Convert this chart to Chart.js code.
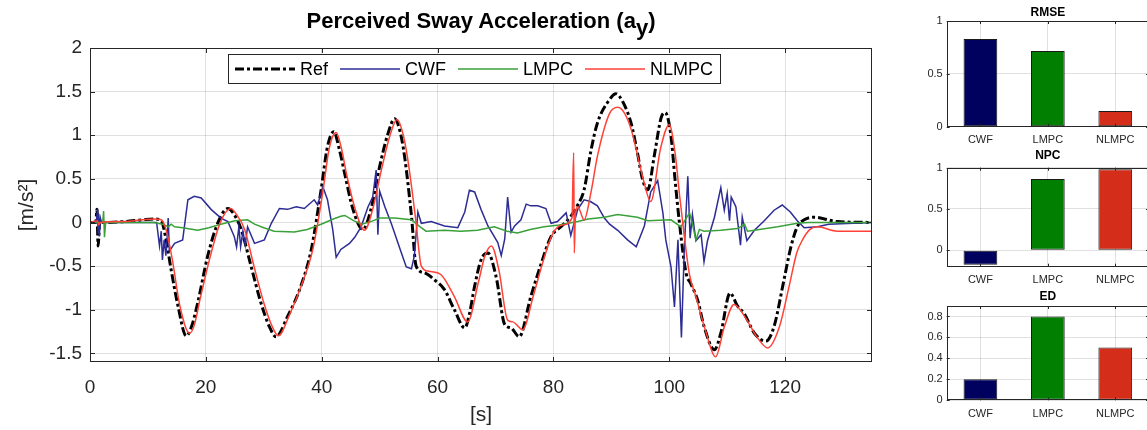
<!DOCTYPE html>
<html>
<head>
<meta charset="utf-8">
<script src="https://cdn.jsdelivr.net/npm/chart.js@4.4.1/dist/chart.umd.min.js"></script>
<style>
  html, body { margin: 0; padding: 0; background: #fff; overflow: hidden; }
  body { width: 1147px; height: 430px; position: relative; }
  .box { position: absolute; }
  canvas { display: block; }
  #title {
    position: absolute; left: 90px; width: 782px; top: 10px; z-index: 2;
    text-align: center; color: #000;
    font: bold 22px/22px "Liberation Sans", Arial, sans-serif;
  }
  #title .sub { position: relative; top: 7px; }
</style>
</head>
<body>
<div id="title">Perceived Sway Acceleration (a<span class="sub">y</span>)</div>
<div class="box" style="left:0;top:0;width:890px;height:430px"><canvas id="sway" width="890" height="430"></canvas></div>
<div class="box" style="left:900px;top:0;width:252px;height:145px"><canvas id="rmse" width="252" height="145"></canvas></div>
<div class="box" style="left:900px;top:145px;width:252px;height:140px"><canvas id="npc" width="252" height="140"></canvas></div>
<div class="box" style="left:900px;top:285px;width:252px;height:145px"><canvas id="ed" width="252" height="145"></canvas></div>

<script>
// ---- data: [time s, acceleration m/s^2] ----
const refSeries = [[0,0],[1.0,0],[1.2,0.15],[1.4,-0.27],[1.7,0.02],[2.2,0],[6,0.01],[9,0.03],[11,0.04],[12.3,0.02],[13,-0.15],[14,-0.54],[15.2,-0.96],[16.6,-1.30],[17.5,-1.2],[18.6,-0.92],[20.3,-0.39],[22.1,0.0],[23.8,0.16],[24.8,0.1],[26.1,-0.08],[27.8,-0.5],[29.5,-0.92],[31,-1.2],[32.1,-1.31],[34.1,-1.08],[36.4,-0.73],[38.2,-0.31],[39.9,0.375],[41.0,0.87],[42.1,1.04],[43,0.85],[44,0.55],[45.4,0.15],[47.1,-0.08],[48.5,0.15],[50,0.64],[51.4,1.01],[52.6,1.19],[53.5,1.05],[54.3,0.76],[55.5,0.07],[56.3,-0.5],[57.8,-0.58],[59.5,-0.66],[61.2,-0.77],[62.9,-1.0],[64.7,-1.21],[65.5,-1.05],[66.4,-0.73],[67.5,-0.43],[68.7,-0.35],[70.1,-0.62],[71.6,-1.17],[72.7,-1.21],[74.1,-1.31],[76.1,-0.85],[77.9,-0.47],[79.6,-0.16],[81.3,-0.05],[83,0.07],[84.2,0.2],[85.3,0.375],[86.5,0.83],[87.6,1.14],[89.7,1.41],[90.8,1.476],[92,1.38],[93.4,1.14],[94.5,0.8],[95.4,0.49],[96.3,0.375],[97.4,0.76],[98.6,1.2],[99.3,1.26],[100.3,0.99],[101.0,0.49],[101.7,0.03],[102.9,-0.58],[103.7,-0.70],[104.9,-0.89],[106,-1.19],[107.8,-1.46],[108.9,-1.27],[110.5,-0.81],[111.8,-0.96],[112.9,-1.04],[114.7,-1.27],[116.7,-1.36],[118.1,-1.19],[119.8,-0.66],[121,-0.28],[122.1,-0.05],[123.3,0.03],[125,0.06],[129,0.01],[135,0]];

const cwfSeries = [[0,0],[1.1,0],[1.3,0.16],[1.4,-0.12],[1.5,0.1],[1.6,-0.16],[1.8,0.05],[2.0,0],[11.5,0],[12.0,-0.27],[12.3,-0.1],[12.5,-0.43],[12.8,-0.2],[13.1,-0.38],[13.3,-0.2],[13.5,0.05],[13.7,-0.33],[14.6,-0.24],[16.0,-0.2],[16.9,0.26],[18.0,0.3],[19.2,0.28],[20.9,0.15],[22.6,0.05],[23.8,0.01],[24.9,-0.16],[25.3,-0.28],[25.7,-0.05],[26.0,-0.28],[26.4,-0.1],[26.8,-0.26],[27.2,-0.05],[28.4,-0.24],[30.1,-0.2],[31.3,-0.01],[32.7,0.16],[34.1,0.15],[35.6,0.18],[37.0,0.16],[38.7,0.26],[39.3,0.2],[40.2,0.41],[41.0,0.26],[41.9,-0.08],[42.5,-0.4],[43.3,-0.31],[44.8,-0.24],[45.7,-0.17],[46.8,-0.05],[48.0,0.18],[48.8,0.29],[49.4,0.6],[49.7,-0.14],[50.0,0.36],[50.9,0.18],[52.0,-0.01],[53.7,-0.34],[54.6,-0.51],[55.5,-0.53],[56.0,-0.38],[56.6,0.12],[57.2,-0.01],[58.9,0.01],[61.2,-0.04],[63.5,-0.06],[64.7,0.12],[65.5,0.37],[66.4,0.35],[67.5,0.15],[68.7,-0.04],[70.4,-0.23],[71.0,-0.38],[71.6,-0.19],[72.1,0.29],[72.7,-0.11],[73.3,-0.04],[74.4,0.03],[75.3,0.21],[76.1,0.19],[77.3,0.19],[78.7,0.16],[79.6,-0.01],[80.7,0.01],[82.2,0.11],[83.0,-0.15],[84.2,0.15],[85.3,0.26],[86.4,0.24],[87.6,0.19],[88.8,0.05],[89.7,-0.02],[91.1,-0.09],[92.8,-0.2],[94.3,-0.28],[95.7,-0.04],[96.8,0.35],[98.0,0.48],[98.9,0.11],[99.4,-0.2],[100.3,-0.51],[100.9,-0.97],[101.5,-0.2],[102.1,-1.32],[102.6,-0.3],[103.2,0.53],[103.6,-0.18],[104.0,0.09],[104.6,-0.21],[105.5,-0.14],[106.0,-0.45],[106.6,-0.21],[107.8,0.06],[108.9,0.40],[109.5,0.14],[110.0,0.33],[110.4,0.02],[110.7,0.29],[111.5,0.18],[112.3,-0.26],[112.6,0.06],[113.4,-0.21],[114.7,-0.09],[116.4,0.02],[118.1,0.14],[119.5,0.2],[120.9,0.12],[122.1,0.02],[123.3,-0.06],[125.6,-0.05],[127.5,-0.02],[135,0]];

const lmpcSeries = [[0,0],[2.2,0],[2.35,0.13],[2.5,-0.17],[2.7,0],[11,0],[12.5,-0.02],[13.5,-0.05],[14,-0.02],[14.6,-0.05],[16,-0.06],[18.6,-0.09],[20.5,-0.06],[22.6,-0.02],[25,0.02],[27.2,0.03],[28.4,-0.02],[30,-0.06],[31.8,-0.1],[35.3,-0.11],[37.5,-0.08],[39.9,-0.02],[42,0.04],[43.3,0.07],[44,0.08],[45.5,0.02],[46.9,-0.02],[48.5,0.01],[50,0.05],[52.6,0.05],[55.5,0.03],[57,-0.05],[58,-0.1],[61.2,-0.09],[64,-0.1],[66.9,-0.09],[69.8,-0.05],[72,-0.1],[73.8,-0.12],[76,-0.08],[78.4,-0.05],[81,-0.03],[84.2,0.01],[86,0.04],[88.8,0.06],[91.1,0.09],[94.5,0.06],[96.3,0.02],[100.3,0.03],[102,-0.05],[103.5,0.11],[104,-0.02],[104.6,-0.2],[105.2,-0.08],[106,-0.1],[108.9,-0.09],[111.8,-0.07],[113,-0.02],[113.5,-0.1],[114.7,-0.09],[118.7,-0.05],[122.1,-0.01],[124,0],[135,0]];

const nlmpcSeries = [[0,0],[1.3,0.02],[1.5,-0.03],[1.8,0],[6,0.01],[9,0.03],[11,0.04],[12.3,0.03],[13.2,-0.1],[14.2,-0.42],[15.5,-0.95],[17.2,-1.27],[18,-1.18],[19,-0.88],[20.8,-0.38],[22.5,0.0],[24.3,0.16],[25.2,0.1],[26.7,-0.08],[28.3,-0.5],[30,-0.92],[31.5,-1.2],[32.5,-1.30],[34.5,-1.05],[36.5,-0.72],[38.5,-0.3],[40.2,0.35],[41.3,0.85],[42.5,1.03],[43.4,0.85],[44.3,0.55],[45.8,0.15],[47.4,-0.09],[48.8,0.15],[50.3,0.6],[51.8,1.0],[53.0,1.18],[53.9,1.05],[54.8,0.75],[56.2,0.05],[57.2,-0.5],[58.5,-0.56],[60.6,-0.6],[62.9,-0.85],[65.2,-1.14],[67,-0.7],[68.2,-0.38],[69.3,-0.27],[70.6,-0.55],[72.1,-1.12],[73,-1.14],[74.7,-1.23],[76.5,-0.85],[78.2,-0.45],[79.8,-0.14],[81.5,-0.03],[83.2,0.05],[83.5,0.80],[83.6,-0.35],[83.8,0.1],[84.2,0.18],[85.3,0.03],[86.5,0.35],[87.6,0.76],[89.7,1.25],[91.1,1.32],[92.3,1.25],[93.5,1.05],[95.5,0.5],[96.8,0.24],[98.5,0.85],[100,1.12],[101,0.8],[101.8,0.3],[102.6,-0.16],[103.5,-0.6],[104.6,-0.85],[106.3,-1.25],[108.0,-1.54],[109.5,-1.2],[111.2,-0.94],[113.4,-1.12],[115,-1.3],[117,-1.44],[119,-1.2],[120.7,-0.73],[122,-0.35],[123,-0.2],[124.3,-0.08],[125.6,-0.05],[129,-0.1],[135,-0.1]];

const xTicks = [0, 20, 40, 60, 80, 100, 120];
const yTicks = [-1.5, -1, -0.5, 0, 0.5, 1, 1.5, 2];

// ---- bar panels ----
const methods = ['CWF', 'LMPC', 'NLMPC'];
const methodColors = ['#00005f', '#007f00', '#d42e1a'];
const rmse = [0.83, 0.716, 0.149];
const npc = [-0.175, 0.864, 0.98];
const ed = [0.2, 0.8, 0.505];
const unitTicks = [0, 0.5, 1];
const edTicks = [0, 0.2, 0.4, 0.6, 0.8];

const FONT = '"Liberation Sans", Arial, sans-serif';
const TEXT = '#262626';
const GRID = 'rgba(38,38,38,0.14)';

const toXY = pts => pts.map(([x, y]) => ({ x, y }));
const setTicks = vals => scale => { scale.ticks = vals.map(v => ({ value: v })); };

// box outline with inward tick marks, MATLAB style
const frame = {
  id: 'frame',
  afterDraw(chart, args, opts) {
    const { ctx, chartArea: a, scales } = chart;
    const len = opts.tick || 4;
    ctx.save();
    ctx.strokeStyle = TEXT;
    ctx.lineWidth = 1;
    ctx.beginPath();
    scales.x.ticks.forEach((t, i) => {
      const px = Math.round(scales.x.getPixelForTick(i)) + 0.5;
      ctx.moveTo(px, a.bottom); ctx.lineTo(px, a.bottom - len);
      ctx.moveTo(px, a.top); ctx.lineTo(px, a.top + len);
    });
    scales.y.ticks.forEach((t, i) => {
      const py = Math.round(scales.y.getPixelForTick(i)) + 0.5;
      ctx.moveTo(a.left, py); ctx.lineTo(a.left + len, py);
      ctx.moveTo(a.right, py); ctx.lineTo(a.right - len, py);
    });
    ctx.stroke();
    ctx.strokeRect(Math.round(a.left) + 0.5, Math.round(a.top) + 0.5,
      Math.round(a.width) - 1, Math.round(a.height) - 1);
    ctx.restore();
  }
};

// legend drawn inside the plot area
const insideLegend = {
  id: 'insideLegend',
  afterDatasetsDraw(chart, args, o) {
    const { ctx, chartArea } = chart;
    const x0 = chartArea.left + o.x, y0 = chartArea.top + o.y;
    ctx.save();
    ctx.font = o.font;
    let w = o.pad * 2 - o.spacing;
    chart.data.datasets.forEach(ds => { w += o.sample + o.gap + ctx.measureText(ds.label).width + o.spacing; });
    ctx.fillStyle = '#fff';
    ctx.fillRect(x0, y0, w, o.height);
    ctx.strokeStyle = TEXT;
    ctx.lineWidth = 1;
    ctx.strokeRect(x0 + 0.5, y0 + 0.5, w, o.height);
    const cy = y0 + o.height / 2 + 0.5;
    let x = x0 + o.pad;
    ctx.textBaseline = 'middle';
    chart.data.datasets.forEach(ds => {
      ctx.beginPath();
      ctx.setLineDash(ds.borderDash || []);
      ctx.strokeStyle = ds.borderColor;
      ctx.lineWidth = ds.borderWidth;
      ctx.moveTo(x, cy); ctx.lineTo(x + o.sample, cy);
      ctx.stroke();
      ctx.setLineDash([]);
      x += o.sample + o.gap;
      ctx.fillStyle = '#000';
      ctx.fillText(ds.label, x, cy + 1);
      x += ctx.measureText(ds.label).width + o.spacing;
    });
    ctx.restore();
  }
};

new Chart(document.getElementById('sway'), {
  type: 'line',
  data: {
    datasets: [
      { label: 'Ref', data: toXY(refSeries), borderColor: '#000', borderWidth: 3,
        borderDash: [9, 3, 3, 3], cubicInterpolationMode: 'monotone', order: 4 },
      { label: 'CWF', data: toXY(cwfSeries), borderColor: '#2c2c94', borderWidth: 1.5, tension: 0, order: 3 },
      { label: 'LMPC', data: toXY(lmpcSeries), borderColor: '#3aa13a', borderWidth: 1.5, tension: 0, order: 2 },
      { label: 'NLMPC', data: toXY(nlmpcSeries), borderColor: '#ff4136', borderWidth: 1.5,
        cubicInterpolationMode: 'monotone', order: 1 }
    ]
  },
  plugins: [frame, insideLegend],
  options: {
    responsive: false,
    animation: false,
    devicePixelRatio: 1,
    layout: { padding: { top: 48, right: 18, bottom: 0, left: 0 } },
    elements: { point: { radius: 0 } },
    plugins: {
      legend: { display: false },
      tooltip: { enabled: false },
      frame: { tick: 5 },
      insideLegend: { x: 138, y: 6, height: 29, pad: 7, sample: 60, gap: 5, spacing: 12, font: '18px ' + FONT }
    },
    scales: {
      x: {
        type: 'linear', min: 0, max: 135,
        afterBuildTicks: setTicks(xTicks),
        afterFit: s => { s.height = 68; },
        grid: { color: GRID, drawTicks: false },
        border: { display: false },
        ticks: { padding: 14, color: TEXT, font: { family: FONT, size: 19 }, maxRotation: 0, autoSkip: false, callback: v => String(v) },
        title: { display: true, text: '[s]', color: TEXT, font: { family: FONT, size: 21 }, padding: { top: 0, bottom: 2 } }
      },
      y: {
        min: -1.6, max: 2,
        afterBuildTicks: setTicks(yTicks),
        afterFit: s => { s.width = 90; },
        grid: { color: GRID, drawTicks: false },
        border: { display: false },
        ticks: { padding: 8, color: TEXT, font: { family: FONT, size: 19 }, autoSkip: false, callback: v => String(v) },
        title: { display: true, text: '[m/s²]', color: TEXT, font: { family: FONT, size: 21 }, padding: { top: 15, bottom: 0 } }
      }
    }
  }
});

function barPanel(id, title, values, yMin, yMax, ticks, fit) {
  return new Chart(document.getElementById(id), {
    type: 'bar',
    data: {
      labels: methods,
      datasets: [{
        data: values, backgroundColor: methodColors, borderColor: '#1a1a1a',
        borderWidth: 1, borderSkipped: false, barPercentage: 0.5, categoryPercentage: 1
      }]
    },
    plugins: [frame],
    options: {
      responsive: false,
      animation: false,
      devicePixelRatio: 1,
      layout: { padding: { top: 0, right: 3, bottom: 0, left: 0 } },
      plugins: {
        legend: { display: false },
        tooltip: { enabled: false },
        frame: { tick: 3 },
        title: {
          display: true, text: title, fullSize: false, color: '#000',
          font: { family: FONT, size: 12, weight: 'bold' },
          padding: { top: fit.titleTop, bottom: fit.titleBottom }
        }
      },
      scales: {
        x: {
          afterFit: s => { s.height = fit.xHeight; },
          grid: { color: GRID, drawTicks: false, offset: false },
          border: { display: false },
          ticks: { padding: 7, color: TEXT, font: { family: FONT, size: 11 } }
        },
        y: {
          min: yMin, max: yMax,
          afterBuildTicks: setTicks(ticks),
          afterFit: s => { s.width = 46.7; },
          grid: { color: GRID, drawTicks: false },
          border: { display: false },
          ticks: { padding: 4, color: TEXT, font: { family: FONT, size: 11 }, callback: v => String(v) }
        }
      }
    }
  });
}

barPanel('rmse', 'RMSE', rmse, 0, 1, unitTicks, { titleTop: 5, titleBottom: 1.6, xHeight: 18.3 });
barPanel('npc', 'NPC', npc, -0.2, 1, unitTicks, { titleTop: 3.6, titleBottom: 4.7, xHeight: 18.3 });
barPanel('ed', 'ED', ed, 0, 0.9, edTicks, { titleTop: 4.5, titleBottom: 2.1, xHeight: 29.7 });
</script>
</body>
</html>
